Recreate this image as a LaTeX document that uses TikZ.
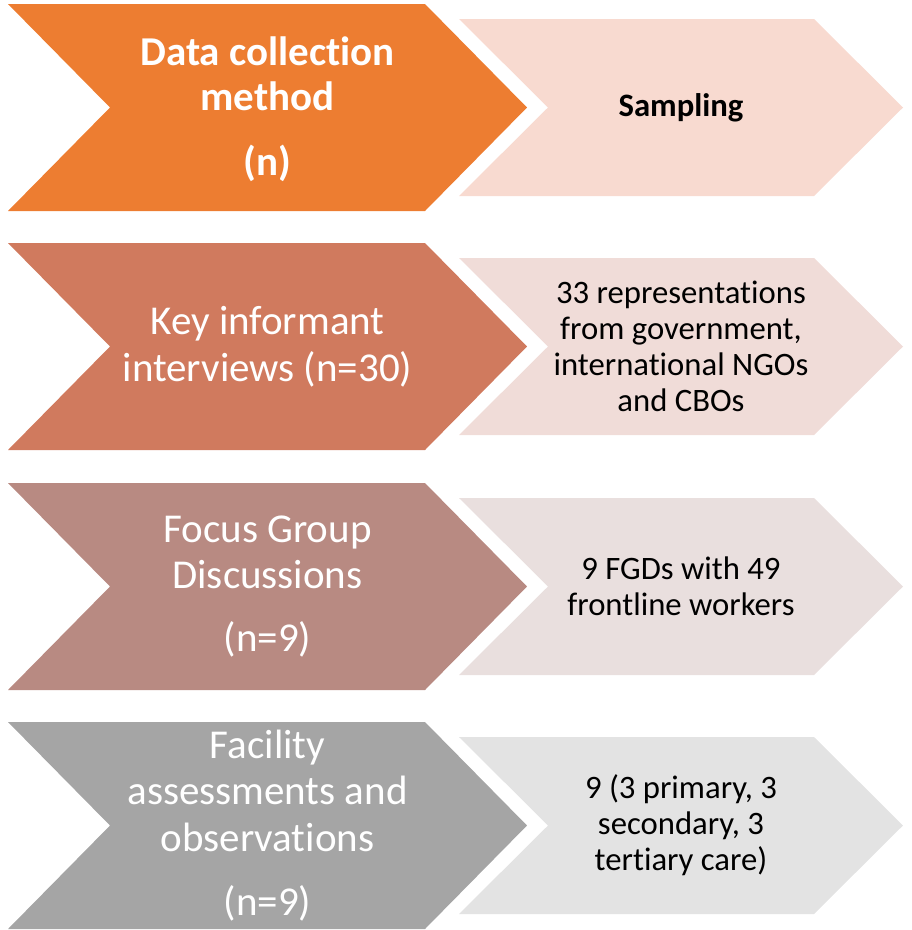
\documentclass[tikz,border=0pt]{standalone}
\usepackage{fontspec}
\setmainfont[RawFeature={-liga;-clig;-calt;-dlig}]{Carlito}
\definecolor{darkA}{HTML}{ED7D31}
\definecolor{darkB}{HTML}{D07A5E}
\definecolor{darkC}{HTML}{B88A82}
\definecolor{darkD}{HTML}{A5A5A5}
\definecolor{lightA}{HTML}{F8DAD0}
\definecolor{lightB}{HTML}{F0DCD8}
\definecolor{lightC}{HTML}{E9DFDE}
\definecolor{lightD}{HTML}{E3E3E3}
\newcommand\bigchev[2]{\fill[#2] (8,#1) -- (425,#1) -- (527,#1+103.5) -- (425,#1+207) -- (8,#1+207) -- (110,#1+103.5) -- cycle;}
\newcommand\smallchev[2]{\fill[#2] (459,#1+15) -- (814,#1+15) -- (903,#1+103.5) -- (814,#1+192) -- (459,#1+192) -- (548,#1+103.5) -- cycle;}
\tikzset{
  methodtext/.style={text=white, align=center, inner sep=0pt, font=\fontsize{41}{46.5}\selectfont},
  sampletext/.style={text=black, align=center, inner sep=0pt, font=\fontsize{32.7}{36}\selectfont}
}
\begin{document}
\begin{tikzpicture}[x=1pt,y=-1pt]
\useasboundingbox (0,0) rectangle (912,930);
\bigchev{4}{darkA}
\smallchev{4}{lightA}
\bigchev{243}{darkB}
\smallchev{243}{lightB}
\bigchev{483}{darkC}
\smallchev{483}{lightC}
\bigchev{722}{darkD}
\smallchev{722}{lightD}
\node[methodtext, font=\fontsize{41}{45}\selectfont\bfseries] (m1) at (267.5,109) {Data collection\\method\\[20pt](n)};
\node[sampletext, font=\fontsize{32.7}{36}\selectfont\bfseries] (s1) at (681,107.5) {Sampling};
\node[methodtext] (m2) at (267.5,346.5) {Key informant\\interviews (n=30)};
\node[sampletext] (s2) at (681,346.5) {33 representations\\from government,\\international NGOs\\and CBOs};
\node[methodtext] (m3) at (267.5,586.5) {Focus Group\\Discussions\\[16pt](n=9)};
\node[sampletext] (s3) at (681,586.5) {9 FGDs with 49\\frontline workers};
\node[methodtext] (m4) at (267.5,825.5) {Facility\\assessments and\\observations\\[18pt](n=9)};
\node[sampletext] (s4) at (681,825.5) {9 (3 primary, 3\\secondary, 3\\tertiary care)};
\end{tikzpicture}
\end{document}
